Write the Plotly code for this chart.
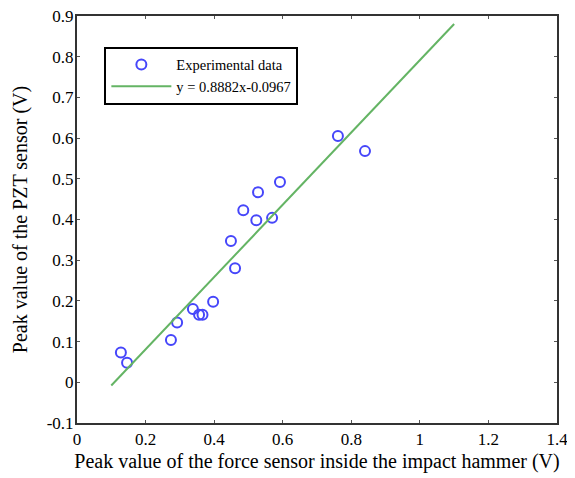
import plotly.graph_objects as go

force_x = [0.128, 0.146, 0.274, 0.292, 0.338, 0.356, 0.366, 0.397, 0.449, 0.461,
           0.485, 0.523, 0.528, 0.569, 0.592, 0.761, 0.840]
pzt_y = [0.073, 0.048, 0.104, 0.147, 0.180, 0.166, 0.166, 0.198, 0.347, 0.280,
         0.423, 0.398, 0.467, 0.404, 0.492, 0.605, 0.568]
fit_x = [0.1, 1.1]
slope, intercept = 0.8882, -0.0967
fit_y = [slope * v + intercept for v in fit_x]

x_ticks = [0, 0.2, 0.4, 0.6, 0.8, 1, 1.2, 1.4]
y_ticks = [-0.1, 0, 0.1, 0.2, 0.3, 0.4, 0.5, 0.6, 0.7, 0.8, 0.9]

font = "Liberation Serif, Times New Roman, serif"

fig = go.Figure()
fig.add_trace(go.Scatter(
    x=force_x, y=pzt_y, mode="markers", name="Experimental data",
    marker=dict(symbol="circle-open", size=10, color="rgb(70,70,250)",
                line=dict(width=2, color="rgb(70,70,250)")),
))
fig.add_trace(go.Scatter(
    x=fit_x, y=fit_y, mode="lines", name="y = 0.8882x-0.0967",
    line=dict(color="rgb(100,180,100)", width=2),
))

axis_common = dict(
    showline=True, linecolor="#333", linewidth=2, mirror="ticks",
    ticks="inside", ticklen=3, tickcolor="#555", tickwidth=1,
    showgrid=False, zeroline=False, automargin=False,
    ticklabeloverflow="allow",
    tickfont=dict(family=font, size=17, color="black"),
)

# page body has an 8px default margin, so the figure is sized/offset to compensate
fig.update_layout(
    width=567, height=470,
    margin=dict(l=69, r=18, t=8, b=55),
    paper_bgcolor="white", plot_bgcolor="white",
    font=dict(family=font, color="black"),
    xaxis=dict(range=[0, 1.4], tickvals=x_ticks,
               ticktext=[f"{v:g}" for v in x_ticks],
               title=dict(text="Peak value of the force sensor inside the impact hammer (V)",
                          font=dict(family=font, size=20), standoff=6),
               **axis_common),
    yaxis=dict(range=[-0.1, 0.9], tickvals=y_ticks,
               ticktext=[f"{v:g}" for v in y_ticks],
               ticklabelstandoff=-2,
               title=dict(text="Peak value of the PZT sensor (V)",
                          font=dict(family=font, size=20), standoff=14),
               **axis_common),
    legend=dict(x=0.057, y=0.925, xanchor="left", yanchor="top",
                bgcolor="white", bordercolor="black", borderwidth=2,
                font=dict(family=font, size=14.5, color="black"),
                itemwidth=60, entrywidth=160, entrywidthmode="pixels"),
    showlegend=True,
)

fig.write_html("out.html")
